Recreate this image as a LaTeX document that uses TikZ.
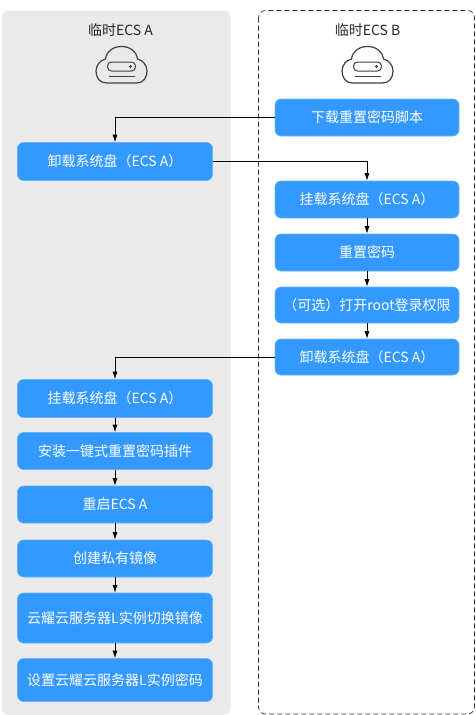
\documentclass[tikz,border=0pt]{standalone}
\usepackage{fontspec}
\setmainfont{Noto Sans CJK SC}
\usetikzlibrary{arrows.meta}
\definecolor{panelgray}{HTML}{EAEAEA}
\definecolor{stepblue}{HTML}{3399FF}
\definecolor{stepedge}{HTML}{66B2FF}
\definecolor{inkgray}{HTML}{404040}
\tikzset{
  stepbox/.style={draw=stepedge,line width=0.6pt,fill=stepblue,rounded corners=6pt,text=white,font=\fontsize{14}{16}\selectfont,inner sep=0pt,anchor=center},
  leftbox/.style={stepbox,minimum width=195pt},
  rightbox/.style={stepbox,minimum width=184pt},
  flow/.style={draw=black,line width=0.8pt,-{Latex[length=7.5pt,width=5pt]}},
  paneltitle/.style={text=black!85,font=\fontsize{14}{16}\selectfont,inner sep=0pt},
  pics/cloudicon/.style={code={
    \draw[inkgray,line width=1.2pt]
      (-15,18) .. controls (-22,18) and (-25.5,12.5) .. (-25.5,6)
      .. controls (-25.5,0) and (-21,-5) .. (-16,-6)
      .. controls (-15,-14) and (-8,-18.5) .. (0,-18.5)
      .. controls (8,-18.5) and (15,-14) .. (16,-6)
      .. controls (21,-5) and (25.5,0) .. (25.5,6)
      .. controls (25.5,12.5) and (22,18) .. (15,18) -- cycle;
    \draw[inkgray,line width=1pt,rounded corners=4pt] (-14,-3) rectangle (14,6);
    \fill[inkgray] (9,1.5) circle (1.7);
    \draw[inkgray,line width=1pt] (-13,11.5) -- (13,11.5);
  }}
}
\begin{document}
\begin{tikzpicture}[x=1pt,y=-1pt]
\useasboundingbox (0,0) rectangle (476,715);
\fill[panelgray,rounded corners=6pt] (2,10.5) rectangle (230.5,714.5);
\draw[black!80,line width=0.7pt,dash pattern=on 5pt off 3pt,rounded corners=7pt] (258.5,10.5) rectangle (474.5,714);
\node[paneltitle] (ta) at (120.5,30.5) {临时ECS A};
\node[paneltitle] (tb) at (367.5,30.5) {临时ECS B};
\pic at (121.5,65) {cloudicon};
\pic at (367.5,65) {cloudicon};
\node[leftbox,minimum height=38pt] (a1) at (115,161.5) {卸载系统盘（ECS A）};
\node[leftbox,minimum height=38pt] (a2) at (115,398.5) {挂载系统盘（ECS A）};
\node[leftbox,minimum height=37pt] (a3) at (115,451) {安装一键式重置密码插件};
\node[leftbox,minimum height=37pt] (a4) at (115,504.5) {重启ECS A};
\node[leftbox,minimum height=37pt] (a5) at (115,558.5) {创建私有镜像};
\node[leftbox,minimum height=50pt] (a6) at (115,618) {云耀云服务器L实例切换镜像};
\node[leftbox,minimum height=43pt] (a7) at (115,680) {设置云耀云服务器L实例密码};
\node[rightbox,minimum height=37pt] (b1) at (367,117.5) {下载重置密码脚本};
\node[rightbox,minimum height=37pt] (b2) at (367,199.5) {挂载系统盘（ECS A）};
\node[rightbox,minimum height=37pt] (b3) at (367,252.5) {重置密码};
\node[rightbox,minimum height=36pt] (b4) at (367,305) {（可选）打开root登录权限};
\node[rightbox,minimum height=36pt] (b5) at (367,357) {卸载系统盘（ECS A）};
\draw[flow] (b1.west) -| (a1.north);
\draw[flow] (a1.east) -| (b2.north);
\draw[flow] (b2) -- (b3);
\draw[flow] (b3) -- (b4);
\draw[flow] (b4) -- (b5);
\draw[flow] (b5.west) -| (a2.north);
\draw[flow] (a2) -- (a3);
\draw[flow] (a3) -- (a4);
\draw[flow] (a4) -- (a5);
\draw[flow] (a5) -- (a6);
\draw[flow] (a6) -- (a7);
\end{tikzpicture}
\end{document}
